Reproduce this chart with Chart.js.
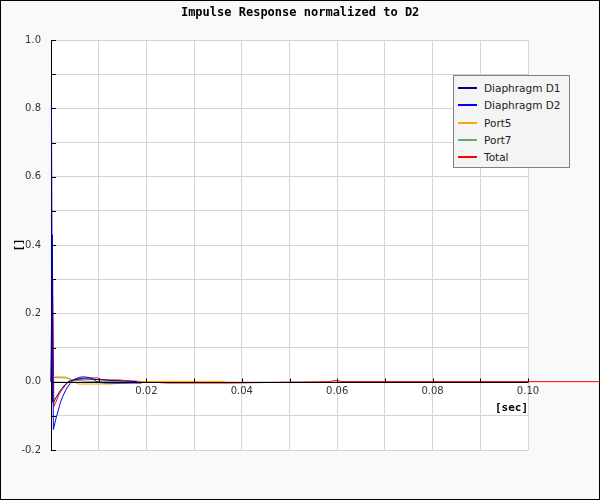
<!DOCTYPE html>
<html>
<head>
<meta charset="utf-8">
<script src="https://cdn.jsdelivr.net/npm/chart.js@4/dist/chart.umd.min.js"></script>
<style>
  html, body { margin: 0; padding: 0; background: #f9f9f9; }
  #wrap { position: relative; width: 600px; height: 500px; }
  #legend {
    position: absolute; left: 453px; top: 75px; width: 115px; height: 91px;
    background: #f4f4f4; border: 1px solid #808080;
    font: 10.5px "DejaVu Sans", sans-serif; color: #222;
  }
  .item { position: absolute; left: 4px; height: 14px; line-height: 14px; white-space: nowrap; }
  .item span.line { position: absolute; left: 0; top: 6px; width: 19px; height: 2px; }
  .item span.txt { position: absolute; left: 26px; top: 0; }
</style>
</head>
<body>
<div id="wrap">
  <canvas id="chart" width="600" height="500"></canvas>
  <div id="legend"></div>
</div>
<script>
// ===== Data =====
const seriesNames = ['Diaphragm D1', 'Diaphragm D2', 'Port5', 'Port7', 'Total'];
const seriesColors = ['#000080', '#0000ff', '#ffa500', '#66aa66', '#ff0000'];

const d1Time  = [0, 0.0001, 0.0003, 0.0006, 0.001, 0.0015, 0.002, 0.0025, 0.003, 0.0037, 0.0045, 0.0055, 0.007, 0.009, 0.012, 0.015, 0.018];
const d1Value = [0, 0.81, -0.06, -0.058, -0.048, -0.036, -0.025, -0.016, -0.008, 0.0, 0.004, 0.007, 0.008, 0.007, 0.004, 0.002, 0.0];

const d2Time  = [0, 0.00025, 0.0005, 0.001, 0.0015, 0.002, 0.0025, 0.003, 0.0035, 0.004, 0.0045, 0.005, 0.006, 0.007, 0.008, 0.009, 0.0096, 0.0105, 0.012, 0.019];
const d2Value = [0, 0.43, -0.14, -0.11, -0.085, -0.06, -0.042, -0.027, -0.015, -0.005, 0.002, 0.007, 0.013, 0.014, 0.012, 0.006, 0.0, -0.003, -0.004, -0.004];

const port5Time  = [0, 0.0008, 0.003, 0.004, 0.005, 0.0057, 0.0124, 0.016, 0.0214, 0.0365];
const port5Value = [0, 0.014, 0.014, 0.008, 0.0, -0.007, -0.007, -0.003, 0.001, 0.001];

const port7Time  = [0, 0.0008, 0.003, 0.005, 0.008, 0.015];
const port7Value = [0, 0.012, 0.011, 0.004, 0.001, 0.0];

const totalTime  = [0, 0.00035, 0.0006, 0.001, 0.0015, 0.002, 0.0025, 0.003, 0.0036, 0.0045, 0.0055, 0.0065, 0.008, 0.0098, 0.0105, 0.0124, 0.0145, 0.0155, 0.017, 0.0195, 0.0243, 0.0375, 0.0585, 0.059, 0.0602, 0.061, 0.12];
const totalValue = [0, 0.3, -0.072, -0.06, -0.043, -0.03, -0.02, -0.011, 0.0, 0.005, 0.008, 0.01, 0.011, 0.011, 0.006, 0.005, 0.005, 0.003, 0.002, 0.0, -0.004, -0.004, 0.0, 0.003, 0.003, 0.0, 0.0];

const xTickStep = 0.01;
const yTickStep = 0.1;

const toPoints = (ts, vs) => ts.map((t, i) => ({ x: t, y: vs[i] }));
const seriesData = [
  toPoints(d1Time, d1Value),
  toPoints(d2Time, d2Value),
  toPoints(port5Time, port5Value),
  toPoints(port7Time, port7Value),
  toPoints(totalTime, totalValue)
];

// ===== Plugins =====
const frame = {
  id: 'frame',
  beforeDraw(chart) {
    const { ctx, chartArea: a } = chart;
    ctx.save();
    ctx.fillStyle = '#f9f9f9';
    ctx.fillRect(0, 0, chart.width, chart.height);
    ctx.fillStyle = '#ffffff';
    ctx.fillRect(a.left, a.top, a.right - a.left, a.bottom - a.top);
    ctx.restore();
  },
  afterDatasetsDraw(chart) {
    const { ctx, chartArea: a, scales: { x, y } } = chart;
    const y0 = Math.round(y.getPixelForValue(0)) + 0.5;
    ctx.save();
    ctx.strokeStyle = '#000';
    ctx.lineWidth = 1;
    ctx.beginPath();
    ctx.moveTo(a.left, y0);
    ctx.lineTo(a.right, y0);
    for (let v = xTickStep; v <= x.max + 1e-9; v += xTickStep) {
      const px = Math.round(x.getPixelForValue(v)) + 0.5;
      ctx.moveTo(px, y0);
      ctx.lineTo(px, y0 - 4);
    }
    for (let v = y.min; v <= y.max + 1e-9; v += yTickStep) {
      const py = Math.round(y.getPixelForValue(v)) + 0.5;
      ctx.moveTo(a.left, py);
      ctx.lineTo(a.left + 5, py);
    }
    ctx.stroke();
    ctx.restore();
  },
  afterDraw(chart) {
    const { ctx } = chart;
    ctx.save();
    ctx.strokeStyle = '#000';
    ctx.lineWidth = 1;
    ctx.strokeRect(0.5, 0.5, chart.width - 1, chart.height - 1);
    ctx.restore();
  }
};

// ===== Chart =====
const chart = new Chart(document.getElementById('chart'), {
  type: 'line',
  data: {
    datasets: seriesNames.map((name, i) => ({
      label: name,
      data: seriesData[i],
      borderColor: seriesColors[i],
      backgroundColor: seriesColors[i],
      borderWidth: 1,
      pointRadius: 0,
      tension: 0,
      clip: false
    }))
  },
  options: {
    responsive: false,
    animation: false,
    devicePixelRatio: 1,
    layout: { padding: { left: 0, right: 72, top: 0, bottom: 50 } },
    plugins: {
      legend: { display: false },
      tooltip: { enabled: false },
      title: {
        display: true,
        // leading spaces offset the 72px right margin so the title sits on the canvas centre
        text: '          Impulse Response normalized to D2',
        color: '#000',
        font: { family: 'DejaVu Sans Mono', weight: 'bold', size: 12 },
        padding: { top: 6, bottom: 19.6 }
      }
    },
    scales: {
      x: {
        type: 'linear',
        min: 0,
        max: 0.1,
        position: { y: 0 },
        afterFit: (s) => { s.height = 40; },
        grid: { color: '#d4d4d4', drawTicks: false },
        border: { display: false },
        ticks: {
          stepSize: xTickStep,
          autoSkip: false,
          maxRotation: 0,
          padding: 4,
          color: '#333',
          font: { family: 'DejaVu Sans', size: 10 },
          callback: (v) => {
            const n = Math.round(v * 100);
            return (n > 0 && n % 2 === 0) ? (n / 100).toFixed(2) : '';
          }
        },
        title: {
          display: true,
          text: '[sec]',
          align: 'end',
          color: '#000',
          font: { family: 'DejaVu Sans Mono', weight: 'bold', size: 11 },
          padding: { top: 0, bottom: 7 }
        }
      },
      y: {
        min: -0.2,
        max: 1.0,
        afterFit: (s) => { s.width = 51; },
        grid: { color: '#d4d4d4', drawTicks: false },
        border: { color: '#000', width: 1 },
        ticks: {
          stepSize: yTickStep,
          autoSkip: false,
          padding: 10,
          color: '#333',
          font: { family: 'DejaVu Sans', size: 10 },
          callback: (v) => {
            const n = Math.round(v * 10);
            return n % 2 === 0 ? (n / 10).toFixed(1) : '';
          }
        },
        title: {
          display: true,
          text: '[]',
          color: '#000',
          font: { family: 'DejaVu Sans Mono', weight: 'bold', size: 11 },
          padding: { top: 13, bottom: 0 }
        }
      }
    }
  },
  plugins: [frame]
});

// ===== Legend =====
const legendEl = document.getElementById('legend');
chart.data.datasets.forEach((ds, i) => {
  const item = document.createElement('div');
  item.className = 'item';
  item.style.top = (5 + i * 17.3) + 'px';
  const line = document.createElement('span');
  line.className = 'line';
  line.style.background = ds.borderColor;
  const txt = document.createElement('span');
  txt.className = 'txt';
  txt.textContent = ds.label;
  item.appendChild(line);
  item.appendChild(txt);
  legendEl.appendChild(item);
});
</script>
</body>
</html>
